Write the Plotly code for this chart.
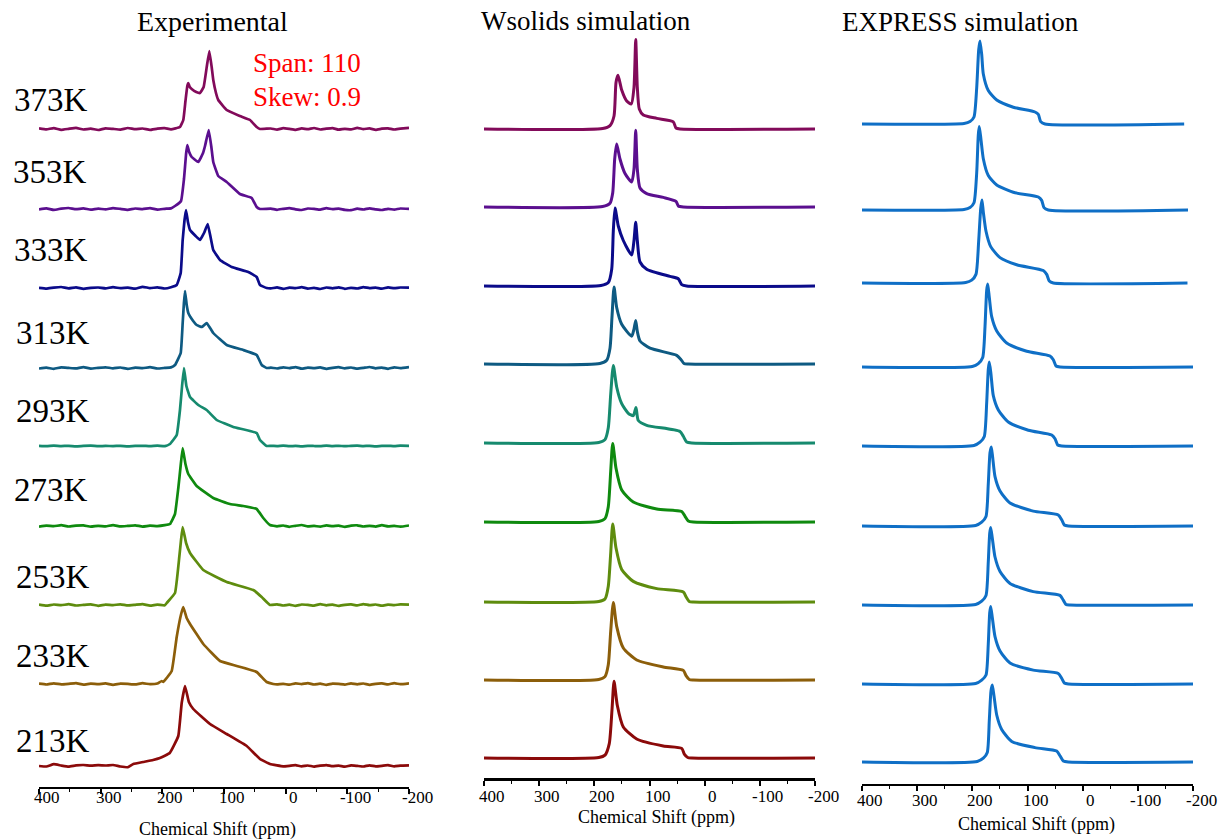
import plotly.graph_objects as go

# Variable-temperature static NMR spectra: experimental vs. two simulations.
TEMPS = ["373K", "353K", "333K", "313K", "293K", "273K", "253K", "233K", "213K"]
COLORS = ["#820A5A", "#5B0F8F", "#0B0B8A", "#0E5A82", "#168A6E",
          "#0F8A0F", "#5E8C0E", "#8C5E0A", "#8B0A0A"]
EXPRESS_COLOR = "#0F6FC6"

TICK_VALS = [400, 300, 200, 100, 0, -100, -200]
TICK_TEXT = ["400", "300", "200", "100", "0", "-100", "-200"]

# ---------------- Experimental spectra (ppm, intensity) ----------------
EXP_LEFT_PPM = [400, 388, 376, 364, 352, 340, 328, 316, 304, 292, 280, 268,
                256, 244, 232, 220, 208, 196, 186]
EXP_RIGHT_PPM = [24, 14, 4, -6, -16, -26, -36, -46, -56, -66, -76, -86, -96,
                 -106, -116, -126, -136, -146, -156, -166, -176, -186, -200]

exp_373 = [(171.4, 2), (166, 9), (162.5, 28), (159.5, 43), (157.9, 46), (155.5, 42),
           (152.4, 40), (145, 37), (138.9, 36), (133, 42), (128, 62), (123.8, 78),
           (120, 62), (117.4, 49), (113, 36), (109.3, 29), (95.6, 19), (74.1, 13),
           (57.8, 9), (47, 2), (41.6, 0)]
exp_353 = [(179.5, 3), (169.7, 8), (164.9, 30), (161.5, 55), (159.5, 64), (156.5, 57),
           (152.4, 52), (141.7, 47), (134, 56), (130.8, 63), (124.8, 79), (120.5, 62),
           (117.4, 47), (109.3, 33), (95.6, 27), (74.1, 15), (55.1, 11), (47, 2), (41.6, 0)]
exp_333 = [(176.7, 3), (170.2, 15), (167, 48), (164, 68), (161.6, 78), (158.5, 66),
           (155.1, 58), (146, 52), (138.9, 48), (132.4, 55), (126.4, 64), (121.5, 50),
           (117.4, 38), (106.5, 28), (87.5, 21), (60.6, 16), (47, 11), (41.6, 3), (30.8, 0)]
exp_313 = [(179.5, 3), (170.2, 15), (167, 45), (165, 65), (163.2, 77), (160.5, 63),
           (157.9, 55), (150, 47), (144.3, 43), (135.7, 41), (128.1, 45), (122.5, 40),
           (117.4, 35), (95.6, 23), (68.7, 18), (47, 13), (38.9, 3), (30.8, 0)]
exp_293 = [(187.6, 2), (176.7, 11), (171.4, 36), (168, 60), (164.9, 78), (161, 60),
           (155.1, 49), (141.7, 41), (128.1, 36), (111.8, 26), (84.9, 19), (47, 13),
           (41.6, 6), (30.8, 0)]
exp_273 = [(187.6, 2), (179.5, 12), (174.1, 38), (170, 62), (167, 78), (162.5, 62),
           (157.9, 52), (144.3, 40), (117.4, 28), (90.3, 22), (68.7, 20), (47, 17),
           (36.3, 8), (25.4, 1)]
exp_253 = [(192.9, 2), (179.5, 12), (172.5, 48), (169.5, 66), (167, 78), (161.5, 62),
           (155.1, 52), (133.6, 35), (95.6, 23), (52.5, 15), (38.9, 8), (25.4, 0)]
exp_233 = [(201, 3), (198.4, 2), (184.8, 13), (176.7, 47), (169.5, 70), (166, 77),
           (160.5, 66), (155.1, 60), (133.6, 40), (106.5, 23), (79.4, 18), (47, 12),
           (30.8, 2), (20.1, 0)]
exp_213 = [(247, 2), (231, 4), (215, 6), (204, 8), (188, 13), (174.1, 30), (168.6, 63),
           (163.2, 80), (157, 64), (149.8, 57), (122.7, 42), (95.6, 32), (63.2, 20),
           (41.6, 7), (25.4, 2)]

# baseline noise on either side of each experimental line
noise_373_l = [0.6, -0.4, 0.9, -0.8, 0.2, 1.1, -0.5, 0.3, -1.0, 0.7, 0.1, -0.6, 1.0, -0.2, 0.5, -0.9, 0.4, 0.8, -0.3]
noise_373_r = [0.5, -0.6, 0.8, 0.1, -0.9, 0.6, -0.2, 1.0, -0.5, 0.3, 0.9, -0.7, 0.2, -0.4, 1.1, -0.1, 0.6, -0.8, 0.3, 0.7, -0.5, 0.4, 1.2]
noise_353_l = [-0.3, 0.7, -0.9, 0.4, 1.0, -0.2, 0.6, -0.7, 0.3, -0.4, 0.9, 0.1, -0.8, 0.5, -0.1, 0.8, -0.6, 0.2, 0.6]
noise_353_r = [0.4, -0.8, 0.2, 0.9, -0.3, -1.0, 0.5, 0.1, -0.6, 0.8, -0.2, 0.4, -0.9, -1.2, 0.3, -0.5, 0.7, -0.3, -1.0, 0.2, -0.6, 0.5, 0.1]
noise_333_l = [0.2, -0.6, 0.4, 1.0, -0.3, 0.7, -0.8, 0.1, 0.5, -0.4, 0.9, -0.2, 0.3, -0.7, 1.2, -0.1, 0.6, -0.5, 0.8]
noise_333_r = [-0.4, 0.6, -0.9, 0.3, -0.2, 0.8, -0.6, 0.1, -1.0, 0.5, -0.3, 0.7, -0.8, 0.2, -0.5, 0.9, -0.1, 0.4, -0.7, 0.6, -0.2, 0.5, 0.3]
noise_313_l = [-0.5, 0.3, -0.8, 0.6, 0.1, -0.4, 0.9, -0.6, 0.2, 0.7, -0.3, 0.5, -0.9, 0.4, -0.2, 0.8, -0.5, 0.1, 0.6]
noise_313_r = [0.3, -0.5, 0.7, -0.2, 0.9, -0.7, 0.4, -0.1, 0.6, -0.9, 0.2, 0.8, -0.4, 0.5, -0.6, 0.1, 1.0, -0.3, 0.4, -0.8, 0.7, -0.2, 0.9]
noise_293_l = [0.2, -0.2, 0.3, -0.1, 0.2, -0.3, 0.1, 0.3, -0.2, 0.1, -0.1, 0.2, -0.3, 0.1, 0.2, -0.1, 0.3, -0.2]
noise_293_r = [0.2, -0.1, 0.3, -0.2, 0.1, -0.3, 0.2, 0.0, -0.2, 0.3, -0.1, 0.2, -0.2, 0.1, 0.3, -0.1, 0.2, -0.3, 0.1, 0.2, -0.1, 0.3, 0.1]
noise_273_l = [-0.6, 0.4, -0.2, 0.8, -0.5, 0.3, 0.6, -0.7, 0.2, -0.3, 0.9, -0.4, 0.1, 0.7, -0.6, 0.3, -0.1, 0.8]
noise_273_r = [-0.3, 0.5, -0.8, 0.2, 1.0, -0.4, 0.1, -0.7, 0.6, -0.2, 0.4, -0.9, 0.3, 0.7, -0.5, 0.2, -0.6, 0.8, -0.3, 0.1, -0.7, 0.5]
noise_253_l = [0.4, -0.7, 0.5, -0.2, 0.8, -0.5, 0.1, 0.6, -0.8, 0.3, -0.1, 0.7, -0.4, 0.2, 0.9, -0.6, 0.4, -0.3]
noise_253_r = [0.7, -0.5, 0.3, -0.8, 0.5, 0.1, -0.6, 0.8, -0.3, 0.4, -0.9, 0.2, 0.6, -0.4, 0.9, -0.2, 0.5, -0.7, 0.3, -0.1, 0.6, 0.4]
noise_233_l = [0.3, -0.5, 0.7, -0.3, 0.2, 0.9, -0.6, 0.4, -0.2, 0.6, -0.8, 0.3, 0.1, -0.4, 0.8, -0.2, 0.5]
noise_233_r = [-0.4, 0.2, -0.7, 0.6, -0.1, 0.9, -0.5, 0.3, -0.8, 0.4, 0.1, -0.6, 0.7, -0.3, 0.5, -0.9, 0.2, 0.6, -0.4, 0.8, -0.2, 0.7]
noise_213_l = [0.0, -0.5, 1.8, 0.5, -0.6, 0.6, 1.0, 0.3, 0.8, 0.5, 1.0, -0.5, -1.2]
noise_213_r = [0.6, -0.3, 0.2, 0.8, -0.4, 0.5, -0.6, 0.3, 0.9, -0.2, 0.4, -0.7, 0.6, 0.1, -0.5, 0.7, -0.3, 0.2, 0.8, -0.4, 0.3, 0.6]

EXP_CORES = [exp_373, exp_353, exp_333, exp_313, exp_293, exp_273, exp_253, exp_233, exp_213]
EXP_NOISE_L = [noise_373_l, noise_353_l, noise_333_l, noise_313_l, noise_293_l,
               noise_273_l, noise_253_l, noise_233_l, noise_213_l]
EXP_NOISE_R = [noise_373_r, noise_353_r, noise_333_r, noise_313_r, noise_293_r,
               noise_273_r, noise_253_r, noise_233_r, noise_213_r]
EXP_OFFSET = [658, 578, 499, 419, 341, 261, 182, 103, 21]

# ---------------- WSolids simulations (ppm, intensity) ----------------
ws_373 = [(400, 0), (185, 0.5), (171.6, 3.4), (164.3, 13), (160.7, 46.5), (157.1, 53.7),
          (150.4, 39), (141.3, 28), (133, 25), (128.1, 41.7), (125, 89.6), (122.1, 41.7),
          (118.5, 20), (111.2, 14), (86.9, 10.6), (56.9, 7.2), (52, 1), (44.7, 0), (-200, 0)]
ws_353 = [(400, 0), (185, 0.5), (171.6, 3.8), (166.7, 14), (163.1, 48), (159.5, 63),
          (153.5, 48), (144.4, 33.5), (132.3, 25), (128.1, 38), (125, 76.7), (122.1, 38),
          (117.2, 19), (105.1, 13.4), (75, 9.6), (52, 5.7), (47.8, 1), (38.7, 0), (-200, 0)]
ws_333 = [(400, 0), (188, 0.5), (174.7, 3.4), (168.5, 16.8), (165.6, 55), (162.5, 78),
          (156.6, 60), (147.5, 45.5), (132.3, 31), (128.1, 45.5), (125, 63.7), (122.1, 45.5),
          (117.2, 24), (105.1, 16.8), (62.8, 9.6), (47.8, 7.2), (41.6, 1.4), (32.6, 0), (-200, 0)]
ws_313 = [(400, 0), (190, 0.5), (177.6, 3.8), (171.6, 15.8), (168, 47), (164.3, 77),
          (159.5, 56.5), (150.4, 39.8), (132.3, 27.8), (128.1, 35), (125, 43.6), (122.1, 32.6),
          (117.2, 23), (99.1, 15.8), (50.7, 8.6), (43.4, 4.8), (37.5, 0.5), (29.7, 0), (-200, 0)]
ws_293 = [(400, 0), (192, 0.5), (180.7, 3.4), (174.7, 15.3), (170.3, 49), (165.6, 77.6),
          (159.5, 56), (150.4, 39.3), (138.4, 29.7), (129.4, 27.3), (124.5, 35.5), (120.3, 22.5),
          (105.1, 17.7), (44.7, 11.5), (38.7, 6.7), (32.6, 1), (23.5, 0), (-200, 0)]
ws_273 = [(400, 0), (192, 0.5), (180.7, 3.4), (174.7, 15.3), (170.3, 51), (166.7, 78.6),
          (160.7, 53.7), (150.4, 32), (129.4, 20), (86.9, 13), (41.6, 10.5), (35.6, 5.7),
          (29.7, 1), (20.6, 0), (-200, 0)]
ws_253 = [(400, 0), (192, 0.5), (180.7, 3), (174.7, 15.8), (170.3, 49), (166.7, 78),
          (160.7, 54), (150.4, 32.6), (129.4, 20.6), (86.9, 13.4), (38.7, 10), (33.8, 5.3),
          (27.9, 0.5), (20.6, 0), (-200, 0)]
ws_233 = [(400, 0), (192, 0.5), (180.7, 3.4), (174.7, 15.3), (170.3, 49), (165.6, 77.6),
          (159.5, 53.7), (147.5, 32), (123.2, 20), (75, 13), (38.7, 9.6), (33.8, 4.3),
          (27.9, 0.5), (20.6, 0), (-200, 0)]
ws_213 = [(400, 0), (192, 0.5), (180.7, 2.9), (172.9, 14.4), (168, 48), (164.3, 76.7),
          (158.4, 52.7), (147.5, 31), (123.2, 19), (75, 12), (41.6, 9.6), (36.9, 3.8),
          (30.8, 0.5), (23.5, 0), (-200, 0)]
WS_SPECTRA = [ws_373, ws_353, ws_333, ws_313, ws_293, ws_273, ws_253, ws_233, ws_213]
WS_OFFSET = [649, 571, 492, 414, 335, 256, 176, 98, 20]

# ---------------- EXPRESS simulations (ppm, intensity) ----------------
xp_373 = [(400, 0), (215, 0.5), (204.2, 2.4), (197, 7), (192.1, 36), (188.5, 74), (186.1, 83),
          (183, 69.5), (180.1, 50), (171.1, 33.5), (155.8, 24), (125.7, 16.8), (86.4, 12),
          (80.4, 9.6), (76.1, 2.4), (68.3, 0), (-184, 0)]
xp_353 = [(400, 0), (215, 0.5), (204.2, 2.4), (197, 7.2), (192.1, 37), (189.2, 75), (187.4, 83.4),
          (184.3, 70.4), (180.1, 51.3), (171.1, 34.5), (155.8, 25), (125.7, 17.7), (80.4, 13),
          (74.3, 9.6), (70.1, 2.4), (62.3, 0), (-191, 0)]
xp_333 = [(400, 0), (212, 0.5), (201.1, 2.9), (193.4, 8.6), (188.5, 42), (184.8, 74.7), (182.5, 83),
          (180.1, 71), (175.2, 51.7), (166.7, 36.4), (149.8, 25.4), (119.6, 18.2), (71.4, 12.5),
          (65.2, 8.6), (60.5, 1.9), (53.2, 0), (-190, 0)]
xp_313 = [(400, 0), (200, 0.5), (189.2, 3.4), (181.2, 9.6), (177, 40.7), (174, 76.7), (172.1, 82.9),
          (169.2, 69.5), (164.9, 50.3), (155.8, 36), (137.7, 24), (101.4, 15.8), (59.2, 11),
          (53.2, 7.2), (48.3, 1), (41.1, 0), (-200, 0)]
xp_293 = [(400, 0), (197, 0.5), (186.1, 3.8), (178.3, 9.6), (174, 43), (171.1, 76.7), (169.2, 83.9),
          (166.2, 71.9), (162, 50.3), (152.9, 36), (134.8, 24), (98.5, 15.8), (56.1, 11),
          (50.1, 7.2), (45.3, 1), (38, 0), (-200, 0)]
xp_273 = [(400, 0), (194, 0.5), (183, 3.8), (175.2, 9.6), (171.1, 42), (168, 73.3), (165.6, 79),
          (163.1, 68.5), (158.9, 49.4), (149.8, 35), (131.7, 23), (89.5, 14.9), (44.2, 11),
          (38, 6.2), (33.3, 1), (26, 0), (-200, 0)]
xp_253 = [(400, 0), (194, 0.5), (183, 3.8), (175.2, 9.6), (171.1, 43), (168.5, 71.9), (166.7, 77.6),
          (163.8, 67), (158.9, 48), (149.8, 33.5), (131.7, 21.6), (89.5, 13.4), (41.1, 9.6),
          (35.1, 4.8), (30.2, 0.5), (23, 0), (-200, 0)]
xp_233 = [(400, 0), (194, 0.5), (183, 3.8), (175.2, 9), (171.1, 40), (168.5, 71.4), (166.7, 77.6),
          (163.8, 66.6), (158.9, 47.4), (149.8, 33), (131.7, 21), (89.5, 13.9), (44.2, 10.5),
          (38, 5.7), (33.3, 1), (26, 0), (-200, 0)]
xp_213 = [(400, 0), (191, 0.5), (180.1, 3.8), (172.9, 9.6), (169.2, 42), (166.2, 71), (163.8, 77),
          (160.7, 66), (155.8, 47), (146.8, 32.6), (128.6, 20.6), (86.4, 14.4), (47.1, 11),
          (41.1, 6.2), (35.1, 1), (26, 0), (-200, 0)]
XP_SPECTRA = [xp_373, xp_353, xp_333, xp_313, xp_293, xp_273, xp_253, xp_233, xp_213]
XP_OFFSET = [660, 574, 501, 417, 338, 258, 179, 100, 22]

FIG_W, FIG_H = 1224, 839
SERIF = "Liberation Serif, Times New Roman, serif"

fig = go.Figure()

# experimental traces
for core, nl, nr, off, col in zip(EXP_CORES, EXP_NOISE_L, EXP_NOISE_R, EXP_OFFSET, COLORS):
    xs = EXP_LEFT_PPM[:len(nl)] + [p for p, _ in core] + EXP_RIGHT_PPM[-len(nr):]
    ys = nl + [h for _, h in core] + nr
    fig.add_trace(go.Scatter(x=xs, y=[v + off for v in ys], mode="lines",
                             line=dict(color=col, width=2.7, shape="spline", smoothing=0.3),
                             xaxis="x", yaxis="y", hoverinfo="skip"))

# WSolids traces
for spec, off, col in zip(WS_SPECTRA, WS_OFFSET, COLORS):
    fig.add_trace(go.Scatter(x=[p for p, _ in spec], y=[h + off for _, h in spec],
                             mode="lines", line=dict(color=col, width=3, shape="spline",
                                                     smoothing=0.6),
                             xaxis="x2", yaxis="y2", hoverinfo="skip"))

# EXPRESS traces
for spec, off in zip(XP_SPECTRA, XP_OFFSET):
    fig.add_trace(go.Scatter(x=[p for p, _ in spec], y=[h + off for _, h in spec],
                             mode="lines", line=dict(color=EXPRESS_COLOR, width=3,
                                                     shape="spline", smoothing=0.6),
                             xaxis="x3", yaxis="y3", hoverinfo="skip"))


def x_axis(left_px, right_px, anchor, line_w):
    return dict(domain=[left_px / FIG_W, right_px / FIG_W], range=[400, -200],
                anchor=anchor, automargin=False, showline=True, linecolor="black",
                linewidth=line_w, ticks="outside", ticklen=5, tickwidth=1.5,
                tickcolor="black", tickmode="array", tickvals=TICK_VALS,
                showticklabels=False,
                minor=dict(ticks="outside", ticklen=3, tickwidth=1, tickcolor="black",
                           tickmode="linear", tick0=50, dtick=100),
                showgrid=False, zeroline=False, fixedrange=True)


def y_axis(axis_px):
    return dict(domain=[(FIG_H - axis_px) / FIG_H, 1], range=[0, axis_px],
                visible=False, automargin=False, fixedrange=True)


annotations = []


def text(x, y, s, size, color="black", anchor="center"):
    annotations.append(dict(x=x / FIG_W, y=1 - y / FIG_H, xref="paper", yref="paper",
                            text=s, showarrow=False, xanchor=anchor, yanchor="middle",
                            font=dict(family=SERIF, size=size, color=color)))


# tick labels placed on each axis' own scale, set slightly right of the tick
for xref, label_y in (("x", 797), ("x2", 796), ("x3", 800)):
    for v, t in zip(TICK_VALS, TICK_TEXT):
        annotations.append(dict(x=v, xref=xref, y=1 - label_y / FIG_H, yref="paper",
                                text=t, showarrow=False, xanchor="center",
                                yanchor="middle", xshift=8,
                                font=dict(family=SERIF, size=17, color="black")))

text(212, 22, "Experimental", 28)
text(586, 21, "Wsolids simulation", 27)
text(960, 22, "EXPRESS simulation", 27)
text(217, 829, "Chemical Shift (ppm)", 18)
text(656, 817, "Chemical Shift (ppm)", 18)
text(1036, 824, "Chemical Shift (ppm)", 18)
text(251, 63, "Span: 110", 27, color="#FF0000", anchor="left")
text(251, 97, "Skew: 0.9", 27, color="#FF0000", anchor="left")

LABEL_Y = [100, 172, 250, 333, 411, 490, 577, 656, 741]
LABEL_X = [12, 11, 12, 14, 14, 12, 14, 14, 14]
for t, lx, ly in zip(TEMPS, LABEL_X, LABEL_Y):
    text(lx, ly, t, 33, anchor="left")

fig.update_layout(
    width=FIG_W, height=FIG_H, autosize=False,
    margin=dict(l=0, r=0, t=0, b=0, pad=0, autoexpand=False),
    paper_bgcolor="white", plot_bgcolor="white", showlegend=False,
    xaxis=x_axis(39, 409, "y", 1.5), yaxis=y_axis(787),
    xaxis2=x_axis(484, 815, "y2", 3), yaxis2=y_axis(778),
    xaxis3=x_axis(862, 1193, "y3", 1.5), yaxis3=y_axis(784),
    annotations=annotations,
)

fig.write_html("out.html")
